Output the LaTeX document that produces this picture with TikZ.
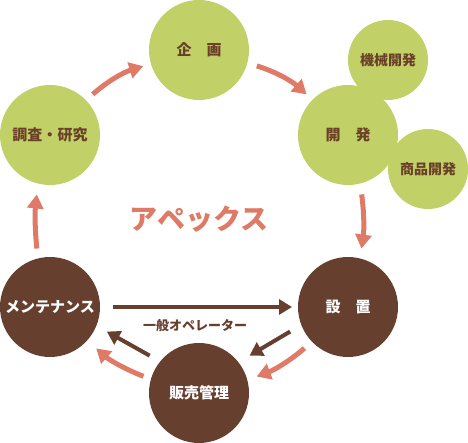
\documentclass[tikz,border=0pt]{standalone}
\usepackage{fontspec}
\setmainfont{Noto Sans CJK JP}
\usetikzlibrary{arrows.meta}
\definecolor{leaf}{HTML}{C1D168}
\definecolor{bark}{HTML}{673F2E}
\definecolor{salmon}{HTML}{DE7A66}
\definecolor{txtbrown}{HTML}{6B4028}
\tikzset{
  bigc/.style={circle,minimum size=100pt,inner sep=0pt,outer sep=0pt,font=\fontsize{15}{15}\selectfont\bfseries},
  smallc/.style={circle,minimum size=80pt,inner sep=0pt,outer sep=0pt,fill=leaf,text=txtbrown,font=\fontsize{14}{14}\selectfont\bfseries},
  greenc/.style={bigc,fill=leaf,text=txtbrown},
  brownc/.style={bigc,fill=bark,text=white},
  cyc/.style={draw=salmon,line width=5pt,-{Triangle[length=14pt,width=16pt]}},
  inner/.style={draw=bark,line width=4pt,-{Triangle[length=13pt,width=15pt]}}
}
\begin{document}
\begin{tikzpicture}[x=1pt,y=-1pt]
\useasboundingbox (0,0) rectangle (468,443);
\node[smallc] (mech) at (388,60) {機械開発};
\node[smallc] (prod) at (428,169) {商品開発};
\node[greenc] (plan) at (199,50) {企　画};
\node[greenc] (res) at (50,135) {調査・研究};
\node[greenc] (dev) at (348,135) {開　発};
\node[brownc] (maint) at (50,307) {メンテナンス};
\node[brownc] (inst) at (348,307) {設　置};
\node[brownc] (sales) at (199,393) {販売管理};
\node[text=salmon,font=\fontsize{28}{28}\selectfont\bfseries] (apex) at (199,219) {アペックス};
% outer cycle
\draw[cyc,shorten <=9pt,shorten >=8pt] (res.44) to[bend left=12] (plan.196);
\draw[cyc,shorten <=10pt,shorten >=8pt] (plan.-15) to[bend left=12] (dev.135);
\draw[cyc,shorten <=11pt,shorten >=10pt] (dev.-76) to[bend left=8] (inst.76);
\draw[cyc,shorten <=10pt,shorten >=10pt] (inst.224) to[bend left=10] (sales.15);
\draw[cyc,shorten <=8pt,shorten >=12pt] (sales.164) to[bend left=10] (maint.-42);
\draw[cyc,shorten <=10pt,shorten >=11pt] (maint.104) to[bend left=6] (res.256);
% inner brown
\draw[inner,shorten <=13pt,shorten >=6pt] (maint.east) -- (inst.west)
  node[pos=0.48,below=7pt,text=bark,font=\fontsize{13}{13}\selectfont\bfseries] (op) {一般オペレーター};
\draw[inner,shorten <=13pt,shorten >=13pt] (inst.201) -- (sales.38);
\draw[inner,shorten <=12pt,shorten >=12pt] (sales.141) -- (maint.-22);
\end{tikzpicture}
\end{document}
